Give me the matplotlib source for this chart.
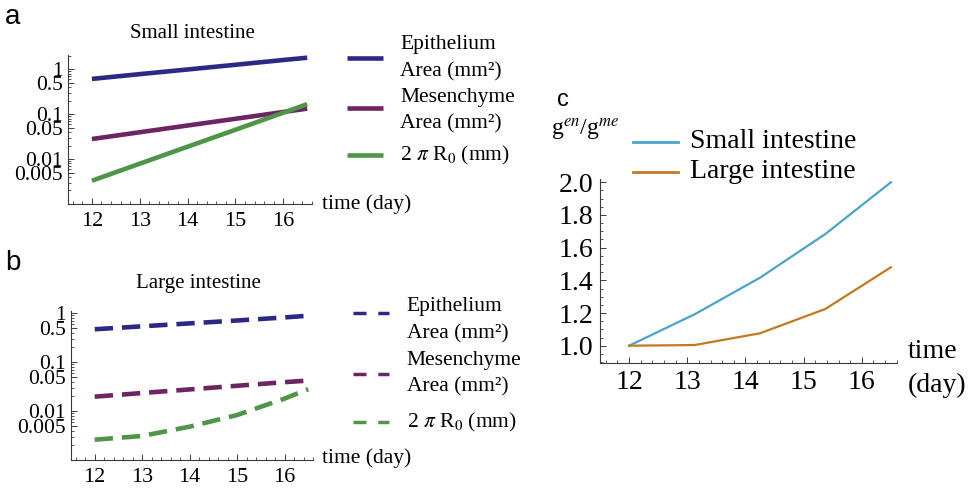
import numpy as np
import matplotlib
matplotlib.use("Agg")
import matplotlib.pyplot as plt
from matplotlib.lines import Line2D
from matplotlib.ticker import FixedLocator, NullFormatter, MultipleLocator, FormatStrFormatter

plt.rcParams['font.family'] = ['Liberation Serif', 'DejaVu Serif']
plt.rcParams['mathtext.fontset'] = 'stix'

# ---------------- data ----------------
days_a = [12, 13, 14, 15, 16, 16.5]
small_epi = [0.61, 0.78, 0.99, 1.26, 1.61, 1.81]
small_mes = [0.028, 0.0396, 0.056, 0.079, 0.112, 0.133]
small_circ = [0.0033, 0.0079, 0.0189, 0.045, 0.108, 0.167]

days_b = [12, 13, 14, 15, 16, 16.5]
large_epi = [0.47, 0.54, 0.62, 0.71, 0.82, 0.89]
large_mes = [0.0197, 0.0234, 0.0277, 0.0329, 0.039, 0.042]
large_circ = [0.0026, 0.0031, 0.0048, 0.0083, 0.018, 0.028]

days_c = [12, 13.125, 14.25, 15.375, 16.5]
ratio_small = [1.0, 1.192, 1.416, 1.684, 2.0]
ratio_large = [1.0, 1.004, 1.076, 1.225, 1.48]

legend_ab = ["Epithelium\nArea (mm²)", "Mesenchyme\nArea (mm²)", "2 $\\pi$ R$_0$ (mm)"]
legend_c = ["Small intestine", "Large intestine"]
log_ticks = [1, 0.5, 0.1, 0.05, 0.01, 0.005]
log_ticklabels = ["1", "0.5", "0.1", "0.05", "0.01", "0.005"]
x_ticks = [12, 13, 14, 15, 16]

c_blue = '#2c2984'
c_purple = '#6c2462'
c_green = '#4f9547'
c_lblue = '#4ba3c9'
c_orange = '#c17a22'
axis_col = '#3a3a3a'

W, H = 973, 490
fig = plt.figure(figsize=(W / 100, H / 100), dpi=100)


def px_axes(left, right, top, bottom):
    return fig.add_axes([left / W, (H - bottom) / H, (right - left) / W, (bottom - top) / H])


def style_axes(ax, tick_fs):
    for s in ['top', 'right']:
        ax.spines[s].set_visible(False)
    for s in ['left', 'bottom']:
        ax.spines[s].set_color(axis_col)
        ax.spines[s].set_linewidth(0.8)
    ax.tick_params(which='major', direction='in', length=4, width=0.7, color=axis_col,
                   labelsize=tick_fs)
    ax.tick_params(which='minor', direction='in', length=2, width=0.6, color=axis_col)
    ax.tick_params(axis='x', pad=5.5)
    ax.tick_params(axis='y', pad=3.5)
    ax.patch.set_alpha(0)


def log_panel(ax, ytop):
    ax.set_yscale('log')
    ax.set_xlim(11.5, 16.6)
    ax.set_ylim(0.001, ytop)
    ax.yaxis.set_major_locator(FixedLocator(log_ticks))
    ax.set_yticklabels(log_ticklabels)
    minors = []
    for dec in [0.001, 0.01, 0.1, 1]:
        for m in [2, 3, 4, 6, 7, 8, 9]:
            minors.append(dec * m)
    ax.yaxis.set_minor_locator(FixedLocator(minors))
    ax.yaxis.set_minor_formatter(NullFormatter())
    ax.set_xticks(x_ticks)
    ax.xaxis.set_minor_locator(MultipleLocator(0.2))
    style_axes(ax, 16)
    ax.tick_params(axis='y', labelsize=15.5)


lw_ab = 3.3

# ---------------- panel a ----------------
axa = px_axes(68, 312, 55, 204)
axa.plot(days_a, small_epi, color=c_blue, lw=lw_ab, solid_capstyle='butt')
axa.plot(days_a, small_mes, color=c_purple, lw=lw_ab, solid_capstyle='butt')
axa.plot(days_a, small_circ, color=c_green, lw=lw_ab, solid_capstyle='butt')
log_panel(axa, 2.08)

# ---------------- panel b ----------------
dash = (4.0, 1.95)
axb = px_axes(71, 313, 311, 460)
axb.plot(days_b, large_epi, color=c_blue, lw=lw_ab, dashes=dash, dash_capstyle='butt')
axb.plot(days_b, large_mes, color=c_purple, lw=lw_ab, dashes=dash, dash_capstyle='butt')
axb.plot(days_b, large_circ, color=c_green, lw=lw_ab, dashes=dash, dash_capstyle='butt')
log_panel(axb, 1.11)

# ---------------- panel c ----------------
axc = px_axes(600, 896.7, 179, 362.7)
axc.plot(days_c, ratio_small, color=c_lblue, lw=1.6)
axc.plot(days_c, ratio_large, color=c_orange, lw=1.6)
axc.set_xlim(11.5, 16.6)
axc.set_ylim(0.896, 2.02)
axc.set_xticks(x_ticks)
axc.xaxis.set_minor_locator(MultipleLocator(0.2))
axc.yaxis.set_major_locator(MultipleLocator(0.2))
axc.yaxis.set_major_formatter(FormatStrFormatter('%.1f'))
axc.yaxis.set_minor_locator(MultipleLocator(0.05))
style_axes(axc, 20)
axc.tick_params(axis='y', pad=5)
axc.tick_params(axis='x', pad=5.3)


# ---------------- text ----------------
def ftext(x, y, s, **kw):
    fig.text(x / W, 1 - y / H, s, **kw)


ftext(13, 17, "a", family='Liberation Sans', fontsize=20, ha='center', va='center')
ftext(13, 263, "b", family='Liberation Sans', fontsize=20, ha='center', va='center')
ftext(563, 100, "c", family='Liberation Sans', fontsize=17, ha='center', va='center')

ftext(192, 33, "Small intestine", fontsize=15, ha='center', va='center')
ftext(198, 283, "Large intestine", fontsize=15, ha='center', va='center')
ftext(322, 204, "time (day)", fontsize=15.5, ha='left', va='center')
ftext(322, 458, "time (day)", fontsize=15.5, ha='left', va='center')

# legends a / b (legend keys and labels)
cols = [c_blue, c_purple, c_green]
ya_key = [58.3, 107.7, 155]
ya_txt = [(45, 71.7), (97.3, 124), (155,)]
for i in range(3):
    fig.add_artist(Line2D([347 / W, 383 / W], [1 - ya_key[i] / H] * 2, color=cols[i], lw=3.3,
                          solid_capstyle='butt'))
    lines = legend_ab[i].split("\n")
    for s, yy in zip(lines, ya_txt[i]):
        ftext(400, yy, s, fontsize=15.5, ha='left', va='center')

yb_key = [313.3, 374, 421.7]
yb_txt = [(306.7, 334), (360.7, 387.3), (422.7,)]
for i in range(3):
    fig.add_artist(Line2D([353 / W, 389 / W], [1 - yb_key[i] / H] * 2, color=cols[i], lw=2.5,
                          dashes=(3.75, 3.4), dash_capstyle='butt'))
    lines = legend_ab[i].split("\n")
    for s, yy in zip(lines, yb_txt[i]):
        ftext(406.7, yy, s, fontsize=15.5, ha='left', va='center')

# legend c
for col, lab, yy in zip([c_lblue, c_orange], legend_c, [141.7, 171.7]):
    fig.add_artist(Line2D([633 / W, 678 / W], [1 - yy / H] * 2, color=col, lw=2))
    ftext(690, yy, lab, fontsize=20, ha='left', va='center')

ftext(551, 130, "g$^{en}$/g$^{me}$", fontsize=17, ha='left', va='center')
ftext(908, 352, "time", fontsize=20, ha='left', va='center')
ftext(908, 385, "(day)", fontsize=20, ha='left', va='center')

fig.savefig("out.png", dpi=100)
